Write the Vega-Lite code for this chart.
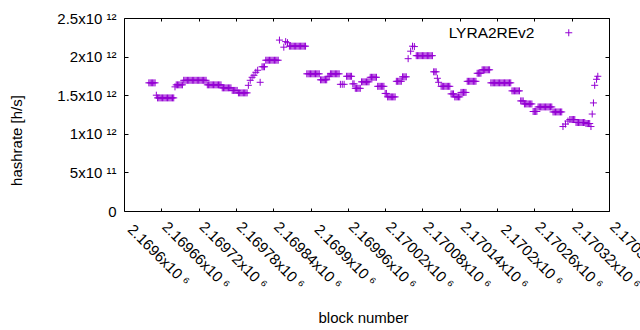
{
  "$schema": "https://vega.github.io/schema/vega-lite/v6.json",
  "autosize": "none",
  "width": 485,
  "height": 193,
  "padding": {"left": 124, "top": 18, "right": 31, "bottom": 119},
  "background": "white",
  "config": {
    "view": {"stroke": "black", "strokeWidth": 1},
    "font": "Liberation Sans",
    "axis": {"grid": false, "domain": false, "tickColor": "black", "tickWidth": 1, "labelColor": "black", "titleColor": "black", "labelFont": "Liberation Sans", "titleFont": "Liberation Sans", "labelFontSize": 15, "titleFontSize": 15, "titleFontWeight": "normal"}
  },
  "datasets": {
    "hash": [
      {"b":2169580,"h":1.66e12},{"b":2169582,"h":1.66e12},{"b":2169584,"h":1.66e12},{"b":2169586,"h":1.66e12},{"b":2169588,"h":1.66e12},{"b":2169590,"h":1.66e12},
      {"b":2169592,"h":1.5e12},
      {"b":2169594,"h":1.465e12},{"b":2169596,"h":1.465e12},{"b":2169598,"h":1.465e12},{"b":2169600,"h":1.465e12},{"b":2169602,"h":1.465e12},{"b":2169604,"h":1.465e12},{"b":2169606,"h":1.465e12},{"b":2169608,"h":1.465e12},{"b":2169610,"h":1.465e12},{"b":2169612,"h":1.465e12},{"b":2169614,"h":1.465e12},{"b":2169616,"h":1.465e12},{"b":2169618,"h":1.465e12},{"b":2169620,"h":1.465e12},
      {"b":2169622,"h":1.608e12},
      {"b":2169624,"h":1.634e12},{"b":2169626,"h":1.634e12},{"b":2169628,"h":1.634e12},{"b":2169630,"h":1.634e12},{"b":2169632,"h":1.634e12},{"b":2169634,"h":1.634e12},
      {"b":2169636,"h":1.693e12},{"b":2169638,"h":1.693e12},{"b":2169640,"h":1.693e12},{"b":2169642,"h":1.693e12},{"b":2169644,"h":1.693e12},{"b":2169646,"h":1.693e12},{"b":2169648,"h":1.693e12},{"b":2169650,"h":1.693e12},{"b":2169652,"h":1.693e12},{"b":2169654,"h":1.693e12},{"b":2169656,"h":1.693e12},{"b":2169658,"h":1.693e12},{"b":2169660,"h":1.693e12},{"b":2169662,"h":1.693e12},{"b":2169664,"h":1.693e12},{"b":2169666,"h":1.693e12},{"b":2169668,"h":1.693e12},{"b":2169670,"h":1.693e12},{"b":2169672,"h":1.693e12},
      {"b":2169674,"h":1.634e12},{"b":2169676,"h":1.634e12},{"b":2169678,"h":1.634e12},{"b":2169680,"h":1.634e12},{"b":2169682,"h":1.634e12},{"b":2169684,"h":1.634e12},{"b":2169686,"h":1.634e12},{"b":2169688,"h":1.634e12},{"b":2169690,"h":1.634e12},{"b":2169692,"h":1.634e12},{"b":2169694,"h":1.634e12},{"b":2169696,"h":1.634e12},
      {"b":2169698,"h":1.595e12},{"b":2169700,"h":1.595e12},{"b":2169702,"h":1.595e12},{"b":2169704,"h":1.595e12},{"b":2169706,"h":1.595e12},{"b":2169708,"h":1.595e12},{"b":2169710,"h":1.595e12},{"b":2169712,"h":1.595e12},
      {"b":2169714,"h":1.562e12},{"b":2169716,"h":1.562e12},{"b":2169718,"h":1.562e12},{"b":2169720,"h":1.562e12},{"b":2169722,"h":1.562e12},
      {"b":2169724,"h":1.53e12},{"b":2169726,"h":1.53e12},{"b":2169728,"h":1.53e12},{"b":2169730,"h":1.53e12},{"b":2169732,"h":1.53e12},{"b":2169734,"h":1.53e12},{"b":2169736,"h":1.53e12},{"b":2169738,"h":1.53e12},
      {"b":2169740,"h":1.628e12},{"b":2169743,"h":1.693e12},{"b":2169746,"h":1.732e12},{"b":2169749,"h":1.758e12},{"b":2169752,"h":1.797e12},{"b":2169755,"h":1.823e12},{"b":2169759,"h":1.667e12},
      {"b":2169762,"h":1.868e12},{"b":2169764,"h":1.868e12},{"b":2169766,"h":1.868e12},
      {"b":2169768,"h":1.953e12},{"b":2169770,"h":1.953e12},{"b":2169772,"h":1.953e12},{"b":2169774,"h":1.953e12},{"b":2169776,"h":1.953e12},{"b":2169778,"h":1.953e12},{"b":2169780,"h":1.953e12},{"b":2169782,"h":1.953e12},{"b":2169784,"h":1.953e12},{"b":2169786,"h":1.953e12},{"b":2169788,"h":1.953e12},
      {"b":2169790,"h":2.214e12},{"b":2169797,"h":2.122e12},{"b":2169800,"h":2.194e12},{"b":2169803,"h":2.18e12},
      {"b":2169806,"h":2.135e12},{"b":2169808,"h":2.135e12},{"b":2169810,"h":2.135e12},{"b":2169812,"h":2.135e12},{"b":2169814,"h":2.135e12},{"b":2169816,"h":2.135e12},{"b":2169818,"h":2.135e12},{"b":2169820,"h":2.135e12},{"b":2169822,"h":2.135e12},{"b":2169824,"h":2.135e12},{"b":2169826,"h":2.135e12},{"b":2169828,"h":2.135e12},{"b":2169830,"h":2.135e12},{"b":2169832,"h":2.135e12},
      {"b":2169834,"h":1.777e12},{"b":2169836,"h":1.777e12},{"b":2169838,"h":1.777e12},{"b":2169840,"h":1.777e12},{"b":2169842,"h":1.777e12},{"b":2169844,"h":1.777e12},{"b":2169846,"h":1.777e12},{"b":2169848,"h":1.777e12},{"b":2169850,"h":1.777e12},{"b":2169852,"h":1.777e12},{"b":2169854,"h":1.777e12},
      {"b":2169856,"h":1.699e12},{"b":2169858,"h":1.699e12},{"b":2169860,"h":1.699e12},{"b":2169862,"h":1.699e12},{"b":2169864,"h":1.699e12},{"b":2169866,"h":1.699e12},
      {"b":2169868,"h":1.745e12},{"b":2169870,"h":1.745e12},
      {"b":2169872,"h":1.777e12},{"b":2169874,"h":1.777e12},{"b":2169876,"h":1.777e12},{"b":2169878,"h":1.777e12},{"b":2169880,"h":1.777e12},{"b":2169882,"h":1.777e12},{"b":2169884,"h":1.777e12},{"b":2169886,"h":1.777e12},
      {"b":2169888,"h":1.641e12},{"b":2169891,"h":1.641e12},{"b":2169894,"h":1.641e12},
      {"b":2169898,"h":1.745e12},{"b":2169900,"h":1.745e12},{"b":2169902,"h":1.745e12},{"b":2169904,"h":1.745e12},{"b":2169906,"h":1.745e12},
      {"b":2169908,"h":1.647e12},{"b":2169910,"h":1.647e12},
      {"b":2169912,"h":1.589e12},{"b":2169914,"h":1.589e12},{"b":2169916,"h":1.589e12},{"b":2169918,"h":1.589e12},{"b":2169920,"h":1.589e12},
      {"b":2169922,"h":1.673e12},{"b":2169924,"h":1.673e12},{"b":2169926,"h":1.673e12},{"b":2169928,"h":1.673e12},{"b":2169930,"h":1.673e12},{"b":2169932,"h":1.673e12},{"b":2169934,"h":1.673e12},
      {"b":2169936,"h":1.732e12},{"b":2169938,"h":1.732e12},{"b":2169940,"h":1.732e12},{"b":2169942,"h":1.732e12},{"b":2169944,"h":1.732e12},{"b":2169946,"h":1.732e12},
      {"b":2169948,"h":1.615e12},{"b":2169950,"h":1.615e12},{"b":2169952,"h":1.615e12},{"b":2169954,"h":1.615e12},{"b":2169956,"h":1.615e12},{"b":2169958,"h":1.615e12},
      {"b":2169960,"h":1.523e12},{"b":2169962,"h":1.523e12},
      {"b":2169964,"h":1.478e12},{"b":2169966,"h":1.478e12},{"b":2169968,"h":1.478e12},{"b":2169970,"h":1.478e12},{"b":2169972,"h":1.478e12},{"b":2169974,"h":1.478e12},{"b":2169976,"h":1.478e12},
      {"b":2169978,"h":1.68e12},{"b":2169980,"h":1.68e12},{"b":2169982,"h":1.68e12},{"b":2169984,"h":1.68e12},{"b":2169986,"h":1.68e12},
      {"b":2169988,"h":1.738e12},{"b":2169990,"h":1.738e12},{"b":2169992,"h":1.738e12},{"b":2169994,"h":1.738e12},
      {"b":2169997,"h":1.973e12},{"b":2170001,"h":2.07e12},{"b":2170004,"h":2.135e12},{"b":2170007,"h":2.13e12},
      {"b":2170010,"h":2.012e12},{"b":2170012,"h":2.012e12},{"b":2170014,"h":2.012e12},{"b":2170016,"h":2.012e12},{"b":2170018,"h":2.012e12},{"b":2170020,"h":2.012e12},{"b":2170022,"h":2.012e12},{"b":2170024,"h":2.012e12},{"b":2170026,"h":2.012e12},{"b":2170028,"h":2.012e12},{"b":2170030,"h":2.012e12},{"b":2170032,"h":2.012e12},{"b":2170034,"h":2.012e12},{"b":2170036,"h":2.012e12},
      {"b":2170038,"h":1.803e12},{"b":2170040,"h":1.803e12},{"b":2170042,"h":1.803e12},
      {"b":2170044,"h":1.719e12},{"b":2170046,"h":1.667e12},
      {"b":2170050,"h":1.615e12},{"b":2170052,"h":1.615e12},{"b":2170054,"h":1.615e12},{"b":2170056,"h":1.615e12},{"b":2170058,"h":1.615e12},{"b":2170060,"h":1.615e12},{"b":2170062,"h":1.615e12},{"b":2170064,"h":1.615e12},
      {"b":2170066,"h":1.517e12},{"b":2170068,"h":1.517e12},{"b":2170070,"h":1.517e12},
      {"b":2170072,"h":1.478e12},{"b":2170074,"h":1.478e12},{"b":2170076,"h":1.478e12},{"b":2170078,"h":1.478e12},{"b":2170080,"h":1.478e12},
      {"b":2170082,"h":1.536e12},{"b":2170084,"h":1.536e12},{"b":2170086,"h":1.536e12},{"b":2170088,"h":1.536e12},{"b":2170090,"h":1.536e12},
      {"b":2170092,"h":1.68e12},{"b":2170094,"h":1.68e12},{"b":2170096,"h":1.68e12},{"b":2170098,"h":1.68e12},{"b":2170100,"h":1.68e12},{"b":2170102,"h":1.68e12},{"b":2170104,"h":1.68e12},{"b":2170106,"h":1.68e12},
      {"b":2170108,"h":1.784e12},{"b":2170110,"h":1.784e12},{"b":2170112,"h":1.784e12},{"b":2170114,"h":1.784e12},
      {"b":2170116,"h":1.829e12},{"b":2170118,"h":1.829e12},{"b":2170120,"h":1.829e12},{"b":2170122,"h":1.829e12},{"b":2170124,"h":1.829e12},{"b":2170126,"h":1.829e12},{"b":2170128,"h":1.829e12},
      {"b":2170130,"h":1.66e12},{"b":2170132,"h":1.66e12},{"b":2170134,"h":1.66e12},{"b":2170136,"h":1.66e12},{"b":2170138,"h":1.66e12},{"b":2170140,"h":1.66e12},{"b":2170142,"h":1.66e12},{"b":2170144,"h":1.66e12},{"b":2170146,"h":1.66e12},{"b":2170148,"h":1.66e12},{"b":2170150,"h":1.66e12},{"b":2170152,"h":1.66e12},{"b":2170154,"h":1.66e12},{"b":2170156,"h":1.66e12},{"b":2170158,"h":1.66e12},{"b":2170160,"h":1.66e12},{"b":2170162,"h":1.66e12},
      {"b":2170164,"h":1.556e12},{"b":2170166,"h":1.556e12},{"b":2170168,"h":1.556e12},{"b":2170170,"h":1.556e12},{"b":2170172,"h":1.556e12},{"b":2170174,"h":1.556e12},{"b":2170176,"h":1.556e12},
      {"b":2170178,"h":1.426e12},{"b":2170180,"h":1.426e12},{"b":2170182,"h":1.426e12},
      {"b":2170184,"h":1.387e12},{"b":2170186,"h":1.387e12},{"b":2170188,"h":1.387e12},{"b":2170190,"h":1.387e12},{"b":2170192,"h":1.387e12},{"b":2170194,"h":1.387e12},{"b":2170196,"h":1.387e12},
      {"b":2170198,"h":1.289e12},{"b":2170200,"h":1.289e12},{"b":2170202,"h":1.289e12},{"b":2170204,"h":1.289e12},
      {"b":2170206,"h":1.348e12},{"b":2170208,"h":1.348e12},{"b":2170210,"h":1.348e12},{"b":2170212,"h":1.348e12},{"b":2170214,"h":1.348e12},{"b":2170216,"h":1.348e12},{"b":2170218,"h":1.348e12},{"b":2170220,"h":1.348e12},{"b":2170222,"h":1.348e12},{"b":2170224,"h":1.348e12},{"b":2170226,"h":1.348e12},{"b":2170228,"h":1.348e12},
      {"b":2170230,"h":1.283e12},{"b":2170232,"h":1.283e12},{"b":2170234,"h":1.283e12},{"b":2170236,"h":1.283e12},{"b":2170238,"h":1.283e12},{"b":2170240,"h":1.283e12},{"b":2170242,"h":1.283e12},{"b":2170244,"h":1.283e12},
      {"b":2170246,"h":1.094e12},{"b":2170250,"h":1.126e12},{"b":2170254,"h":1.165e12},
      {"b":2170257,"h":1.185e12},{"b":2170259,"h":1.185e12},{"b":2170261,"h":1.185e12},{"b":2170263,"h":1.185e12},{"b":2170265,"h":1.185e12},
      {"b":2170267,"h":1.146e12},{"b":2170269,"h":1.146e12},{"b":2170271,"h":1.146e12},{"b":2170273,"h":1.146e12},{"b":2170275,"h":1.146e12},{"b":2170277,"h":1.146e12},{"b":2170279,"h":1.146e12},{"b":2170281,"h":1.146e12},
      {"b":2170283,"h":1.133e12},{"b":2170285,"h":1.133e12},{"b":2170287,"h":1.133e12},{"b":2170289,"h":1.133e12},{"b":2170291,"h":1.094e12},
      {"b":2170293,"h":1.256e12},{"b":2170295,"h":1.4e12},{"b":2170297,"h":1.628e12},{"b":2170300,"h":1.706e12},{"b":2170302,"h":1.745e12}
    ]
  },
  "layer": [
    {
      "data": {"name": "hash"},
      "mark": {"type": "point", "shape": "M-1,0H1M0,-1V1", "filled": false, "size": 49, "strokeWidth": 1, "opacity": 1, "clip": true},
      "encoding": {
        "x": {
          "field": "b", "type": "quantitative",
          "scale": {"domain": [2169540, 2170380], "range": [0, 522.3], "nice": false, "zero": false},
          "title": "block number",
          "axis": {
            "orient": "bottom",
            "values": [2169600, 2169660, 2169720, 2169780, 2169840, 2169900, 2169960, 2170020, 2170080, 2170140, 2170200, 2170260, 2170320, 2170380],
            "labelExpr": "format(datum.value / 1e6, '~g') + 'x10 ⁶'",
            "tickSize": -3,
            "labelAngle": 45,
            "labelAlign": "center",
            "labelBaseline": "middle",
            "labelPadding": 47,
            "labelOffset": -3,
            "labelOverlap": false,
            "labelFlush": false,
            "labelBound": false,
            "titleX": 239,
            "titleY": 111,
            "titleAlign": "center",
            "titleBaseline": "alphabetic"
          }
        },
        "y": {
          "field": "h", "type": "quantitative",
          "scale": {"domain": [0, 2.5e12], "nice": false, "zero": true},
          "title": "hashrate [h/s]",
          "axis": {
            "orient": "left",
            "values": [0, 5e11, 1e12, 1.5e12, 2e12, 2.5e12],
            "labelExpr": "datum.value == 0 ? '0' : (datum.value < 1e12 ? format(datum.value / 1e11, '~g') + 'x10 ¹¹' : format(datum.value / 1e12, '~g') + 'x10 ¹²')",
            "tickSize": -4,
            "labelPadding": 12,
            "labelAlign": "right",
            "labelBaseline": "middle",
            "titleX": -108,
            "titleY": 122,
            "titleAngle": -90,
            "titleAlign": "center",
            "titleBaseline": "middle"
          }
        },
        "color": {
          "datum": "LYRA2REv2",
          "type": "nominal",
          "scale": {"range": ["#9400D3"]},
          "legend": {
            "orient": "none",
            "legendX": 437,
            "legendY": 7,
            "title": null,
            "padding": 0,
            "symbolType": "M-1,0H1M0,-1V1",
            "symbolSize": 49,
            "symbolStrokeWidth": 1,
            "symbolFillColor": "transparent",
            "symbolStrokeColor": "#9400D3",
            "labelFont": "Liberation Sans",
            "labelFontSize": 15.5,
            "labelColor": "black",
            "labelAlign": "right",
            "labelOffset": -42
          }
        }
      }
    },
    {
      "data": {"values": [{"b": 2169600, "h": 1e12}]},
      "mark": {"type": "point", "opacity": 0},
      "encoding": {
        "x": {
          "field": "b", "type": "quantitative",
          "scale": {"domain": [2169540, 2170380], "range": [0, 522.3], "nice": false, "zero": false},
          "axis": {"orient": "top", "title": null, "labels": false, "tickSize": -3, "values": [2169600, 2169660, 2169720, 2169780, 2169840, 2169900, 2169960, 2170020, 2170080, 2170140, 2170200, 2170260, 2170320]}
        },
        "y": {
          "field": "h", "type": "quantitative",
          "scale": {"domain": [0, 2.5e12], "nice": false, "zero": true},
          "axis": {"orient": "right", "title": null, "labels": false, "tickSize": -4, "values": [0, 5e11, 1e12, 1.5e12, 2e12, 2.5e12]}
        }
      }
    }
  ],
  "resolve": {"axis": {"x": "independent", "y": "independent"}}
}
